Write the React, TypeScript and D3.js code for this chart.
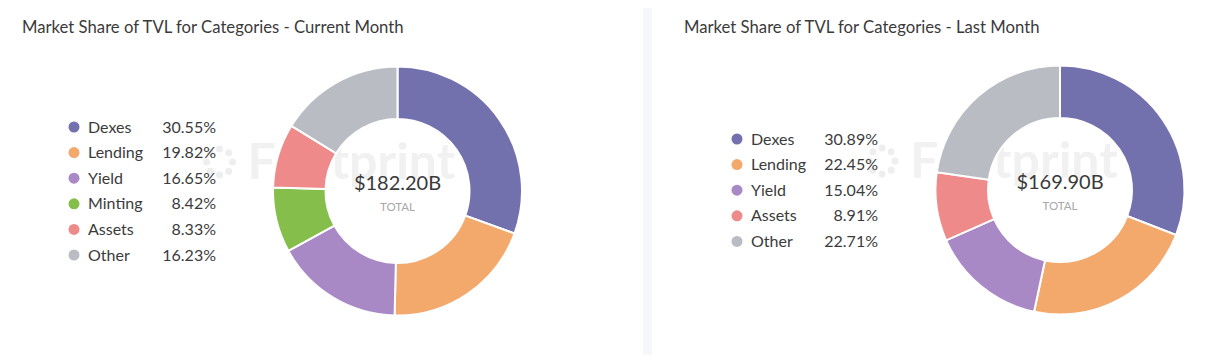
import React, { useEffect, useRef } from "react";
import * as d3 from "d3";

const currentCategories = ["Dexes", "Lending", "Yield", "Minting", "Assets", "Other"];
const currentShares = [30.55, 19.82, 16.65, 8.42, 8.33, 16.23];
const currentTotal = "$182.20B";

const lastCategories = ["Dexes", "Lending", "Yield", "Assets", "Other"];
const lastShares = [30.89, 22.45, 15.04, 8.91, 22.71];
const lastTotal = "$169.90B";

const colorMap = {
  Dexes: "#7370ae",
  Lending: "#f3a86c",
  Yield: "#a988c6",
  Minting: "#86be4b",
  Assets: "#ef8a8a",
  Other: "#babcc4",
};

const FONT = "Lato, 'Open Sans', sans-serif";

type Panel = {
  x0: number;
  title: string;
  categories: string[];
  shares: number[];
  total: string;
  cx: number;
  cy: number;
  legendX: number;
  legendY: number;
  valueX: number;
};

const panels: Panel[] = [
  {
    x0: 0,
    title: "Market Share of TVL for Categories - Current Month",
    categories: currentCategories,
    shares: currentShares,
    total: currentTotal,
    cx: 397.5,
    cy: 191,
    legendX: 74,
    legendY: 127,
    valueX: 216,
  },
  {
    x0: 662,
    title: "Market Share of TVL for Categories - Last Month",
    categories: lastCategories,
    shares: lastShares,
    total: lastTotal,
    cx: 1060,
    cy: 190,
    legendX: 737,
    legendY: 139,
    valueX: 878,
  },
];

const App = () => {
  const svgRef = useRef<SVGSVGElement>(null);

  useEffect(() => {
    const svg = d3.select(svgRef.current);
    svg.selectAll("*").remove();

    // divider between the two cards
    svg
      .append("rect")
      .attr("x", 643)
      .attr("y", 8)
      .attr("width", 9)
      .attr("height", 347)
      .attr("fill", "#f6f7f9");

    panels.forEach((p) => {
      const g = svg.append("g");

      g.append("text")
        .attr("x", p.x0 + 22)
        .attr("y", 33)
        .attr("font-family", FONT)
        .attr("font-size", 16.7)
        .attr("fill", "#3b3b3b")
        .text(p.title);

      // faint watermark behind the donut
      const wm = g.append("g").attr("opacity", 0.8);
      const wmX = p.cx - 150;
      wm.append("text")
        .attr("x", wmX)
        .attr("y", p.cy - 12)
        .attr("font-family", FONT)
        .attr("font-weight", 700)
        .attr("font-size", 50)
        .attr("fill", "#eeeeee")
        .text("Footprint");
      d3.range(8).forEach((i) => {
        const a = (i / 8) * Math.PI * 2;
        wm.append("circle")
          .attr("cx", wmX - 28 + Math.cos(a) * 13)
          .attr("cy", p.cy - 29 + Math.sin(a) * 13)
          .attr("r", 3.5)
          .attr("fill", "#ebebeb");
      });

      const data = p.categories.map((c, i) => ({ name: c, value: p.shares[i] }));
      const pie = d3
        .pie<{ name: string; value: number }>()
        .sort(null)
        .value((d) => d.value);
      const arc = d3
        .arc<d3.PieArcDatum<{ name: string; value: number }>>()
        .innerRadius(72)
        .outerRadius(124.5);

      const chart = g.append("g").attr("transform", `translate(${p.cx},${p.cy})`);
      chart
        .selectAll("path")
        .data(pie(data))
        .enter()
        .append("path")
        .attr("d", arc)
        .attr("fill", (d) => colorMap[d.data.name])
        .attr("stroke", "#fff")
        .attr("stroke-width", 2);

      chart
        .append("text")
        .attr("text-anchor", "middle")
        .attr("y", -1)
        .attr("font-family", FONT)
        .attr("font-size", 20)
        .attr("fill", "#3a3a3a")
        .text(p.total);
      chart
        .append("text")
        .attr("text-anchor", "middle")
        .attr("y", 20)
        .attr("font-family", FONT)
        .attr("font-size", 11.5)
        .attr("fill", "#a8a8a8")
        .text("TOTAL");

      const y = d3
        .scaleBand()
        .domain(p.categories)
        .range([p.legendY - 12.8, p.legendY - 12.8 + 25.6 * p.categories.length]);

      const rows = g
        .selectAll(".row")
        .data(data)
        .enter()
        .append("g")
        .attr("transform", (d) => `translate(0,${(y(d.name) || 0) + y.bandwidth() / 2})`);
      rows
        .append("circle")
        .attr("cx", p.legendX)
        .attr("r", 5.5)
        .attr("fill", (d) => colorMap[d.name]);
      rows
        .append("text")
        .attr("x", p.legendX + 14)
        .attr("y", 5.5)
        .attr("font-family", FONT)
        .attr("font-size", 16)
        .attr("fill", "#3b3b3b")
        .text((d) => d.name);
      rows
        .append("text")
        .attr("x", p.valueX)
        .attr("y", 5.5)
        .attr("text-anchor", "end")
        .attr("font-family", FONT)
        .attr("font-size", 16)
        .attr("fill", "#3b3b3b")
        .text((d) => `${d.value.toFixed(2)}%`);
    });
  }, []);

  return (
    <svg
      ref={svgRef}
      width={1210}
      height={364}
      style={{ position: "absolute", left: 0, top: 0, background: "#fff" }}
    ></svg>
  );
};

export default App;
